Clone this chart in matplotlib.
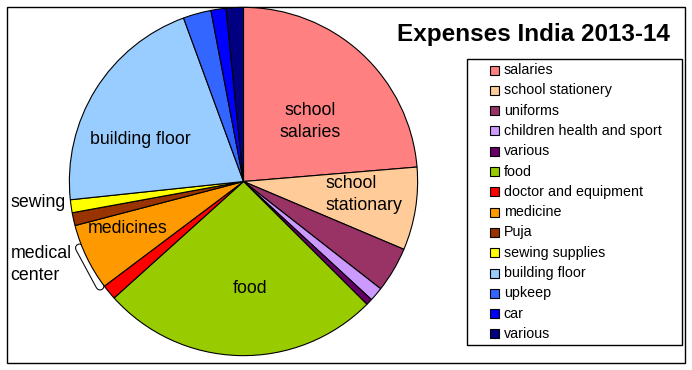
import matplotlib
matplotlib.use("Agg")
import matplotlib.pyplot as plt
from matplotlib.patches import Rectangle

plt.rcParams["font.family"] = ["Liberation Sans", "DejaVu Sans"]

# share of total expenses (%), clockwise from 12 o'clock
labels = ["salaries", "school stationery", "uniforms", "children health and sport",
          "various", "food", "doctor and equipment", "medicine", "Puja",
          "sewing supplies", "building floor", "upkeep", "car", "various"]
shares = [23.7, 7.7, 4.2, 1.3, 0.6, 25.9, 1.4, 6.2, 1.2, 1.2, 21.1, 2.6, 1.4, 1.6]
colors = ["#FF8080", "#FFCC99", "#993366", "#CC99FF", "#660066", "#99CC00",
          "#FF0000", "#FF9900", "#993300", "#FFFF00", "#99CCFF", "#3366FF",
          "#0000FF", "#000080"]

W, H = 692, 370
fig = plt.figure(figsize=(W / 100, H / 100), dpi=100)

# overlay axes in pixel coordinates (y down) for frame, texts and legend
ov = fig.add_axes([0, 0, 1, 1])
ov.set_xlim(0, W)
ov.set_ylim(H, 0)
ov.axis("off")

# outer frame
ov.add_patch(Rectangle((6.6, 6.7), 678.8, 356, fill=False, edgecolor="black", linewidth=1))

# bracket marking the "medical center" slices (drawn under the pie)
ov.plot([79.5, 100], [248, 286], color="black", linewidth=6.5, solid_capstyle="round", zorder=1)
ov.plot([79.5, 100], [248, 286], color="white", linewidth=5.0, solid_capstyle="round", zorder=1.1)

# pie axes
cx, cy, r = 243.5, 181.5, 175
ax = fig.add_axes([(cx - r) / W, (H - cy - r) / H, 2 * r / W, 2 * r / H])
ax.set_zorder(2)
ax.patch.set_alpha(0)
ax.pie(shares, colors=colors, startangle=90, counterclock=False, radius=1,
       wedgeprops=dict(edgecolor="black", linewidth=0.8))
ax.set_xlim(-1.005, 1.005)
ax.set_ylim(-1.005, 1.005)

# texts on top
tx = fig.add_axes([0, 0, 1, 1])
tx.set_xlim(0, W)
tx.set_ylim(H, 0)
tx.axis("off")
tx.set_zorder(3)

lbl_fs = 12.8
ls = 1.42
tx.text(310.6, 121.5, "school\nsalaries", ha="center", va="center", fontsize=lbl_fs, linespacing=ls)
tx.text(326, 194.5, "school\nstationary", ha="left", va="center", fontsize=lbl_fs, linespacing=ls)
tx.text(250.5, 288.7, "food", ha="center", va="center", fontsize=lbl_fs)
tx.text(128.1, 228.7, "medicines", ha="center", va="center", fontsize=lbl_fs)
tx.text(140.5, 140, "building floor", ha="center", va="center", fontsize=lbl_fs)
tx.text(10.6, 202.3, "sewing", ha="left", va="center", fontsize=lbl_fs)
tx.text(10.6, 264.5, "medical\ncenter", ha="left", va="center", fontsize=lbl_fs, linespacing=ls)

# title
tx.text(533, 41.5, "Expenses India 2013-14", ha="center", va="baseline",
        fontsize=17.5, fontweight="bold")

# legend
tx.add_patch(Rectangle((466.6, 59.3), 215.2, 286, fill=False, edgecolor="black", linewidth=1))
y0, dy = 70, 20.3
for i, (name, col) in enumerate(zip(labels, colors)):
    y = y0 + i * dy
    tx.add_patch(Rectangle((489.6, y - 4.5), 9, 9, facecolor=col, edgecolor="black", linewidth=0.8))
    tx.text(503.8, y, name, ha="left", va="center", fontsize=10.3)

fig.savefig("out.png", dpi=100, facecolor="white")
